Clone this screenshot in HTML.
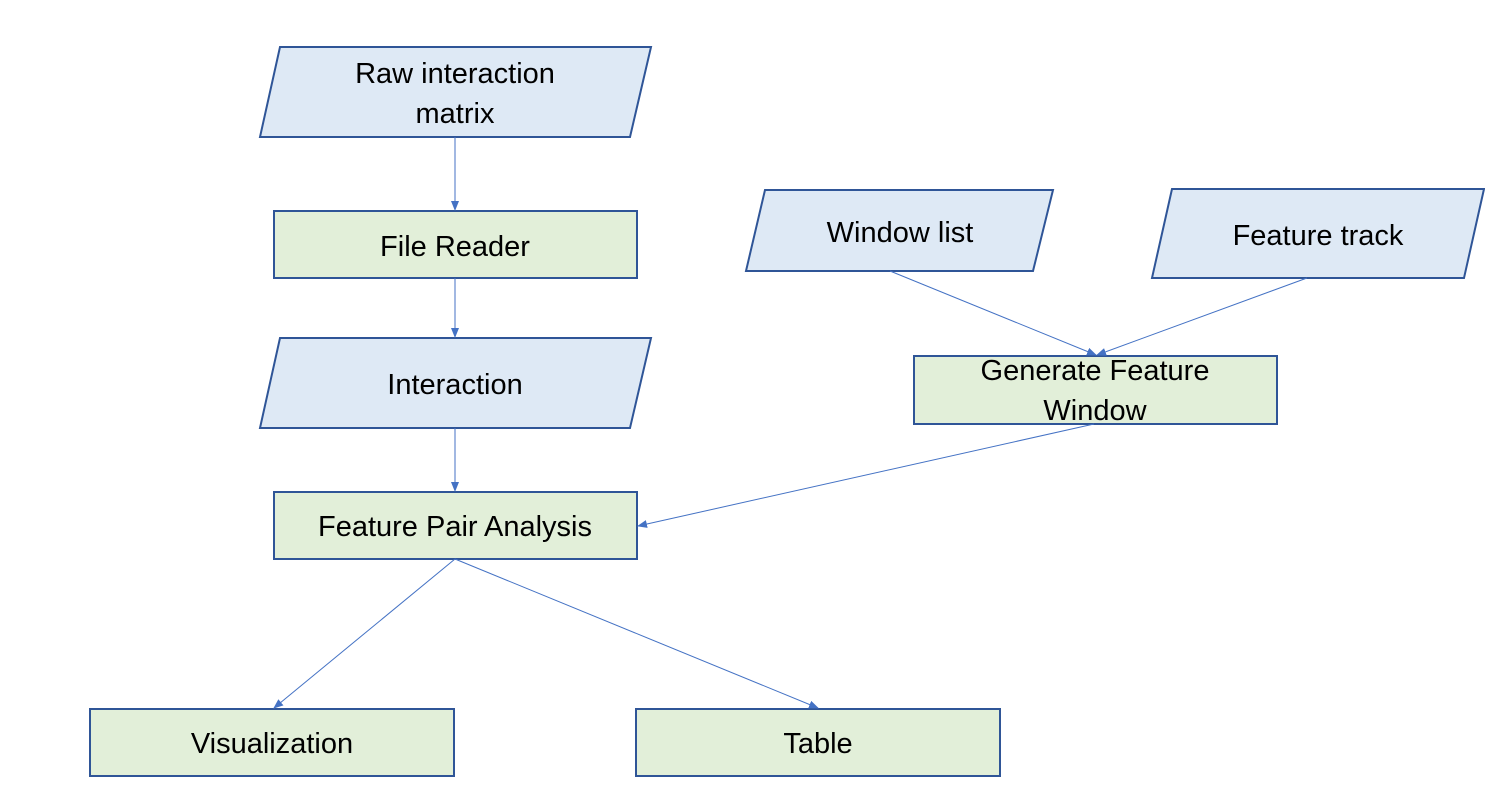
<!DOCTYPE html>
<html><head><meta charset="utf-8"><style>
html,body{margin:0;padding:0;background:#fff;}
svg{display:block;}
text{font-family:"Liberation Sans",sans-serif;font-size:29px;fill:#000;text-anchor:middle;}
</style></head><body>
<svg width="1485" height="809" viewBox="0 0 1485 809">
<defs><marker id="a" markerWidth="10" markerHeight="8" refX="9" refY="4" orient="auto" markerUnits="userSpaceOnUse"><path d="M0,0 L10,4 L0,8 z" fill="#4472c4"/></marker></defs>
<g fill="#dee9f5" stroke="#2f5597" stroke-width="2">
<polygon points="280,47 651,47 630,137 260,137"/>
<polygon points="280,338 651,338 630,428 260,428"/>
<polygon points="765,190 1053,190 1033,271 746,271"/>
<polygon points="1172,189 1484,189 1464,278 1152,278"/>
</g>
<g fill="#e2efd9" stroke="#2f5597" stroke-width="2">
<rect x="274" y="211" width="363" height="67"/>
<rect x="274" y="492" width="363" height="67"/>
<rect x="914" y="356" width="363" height="68"/>
<rect x="90" y="709" width="364" height="67"/>
<rect x="636" y="709" width="364" height="67"/>
</g>
<g stroke="#4472c4" stroke-width="1" marker-end="url(#a)">
<line x1="455" y1="137" x2="455" y2="210"/>
<line x1="455" y1="278" x2="455" y2="337"/>
<line x1="455" y1="428" x2="455" y2="491"/>
<line x1="890" y1="271" x2="1096" y2="355"/>
<line x1="1307" y1="278" x2="1097" y2="355"/>
<line x1="1094" y1="424" x2="638" y2="526"/>
<line x1="455" y1="559" x2="274" y2="708"/>
<line x1="455" y1="559" x2="818" y2="708"/>
</g>
<text x="455" y="83">Raw interaction</text>
<text x="455" y="123">matrix</text>
<text x="455" y="256">File Reader</text>
<text x="455" y="394">Interaction</text>
<text x="455" y="536">Feature Pair Analysis</text>
<text x="900" y="242">Window list</text>
<text x="1318" y="245">Feature track</text>
<text x="1095" y="380">Generate Feature</text>
<text x="1095" y="420">Window</text>
<text x="272" y="753">Visualization</text>
<text x="818" y="753">Table</text>
</svg>
</body></html>
